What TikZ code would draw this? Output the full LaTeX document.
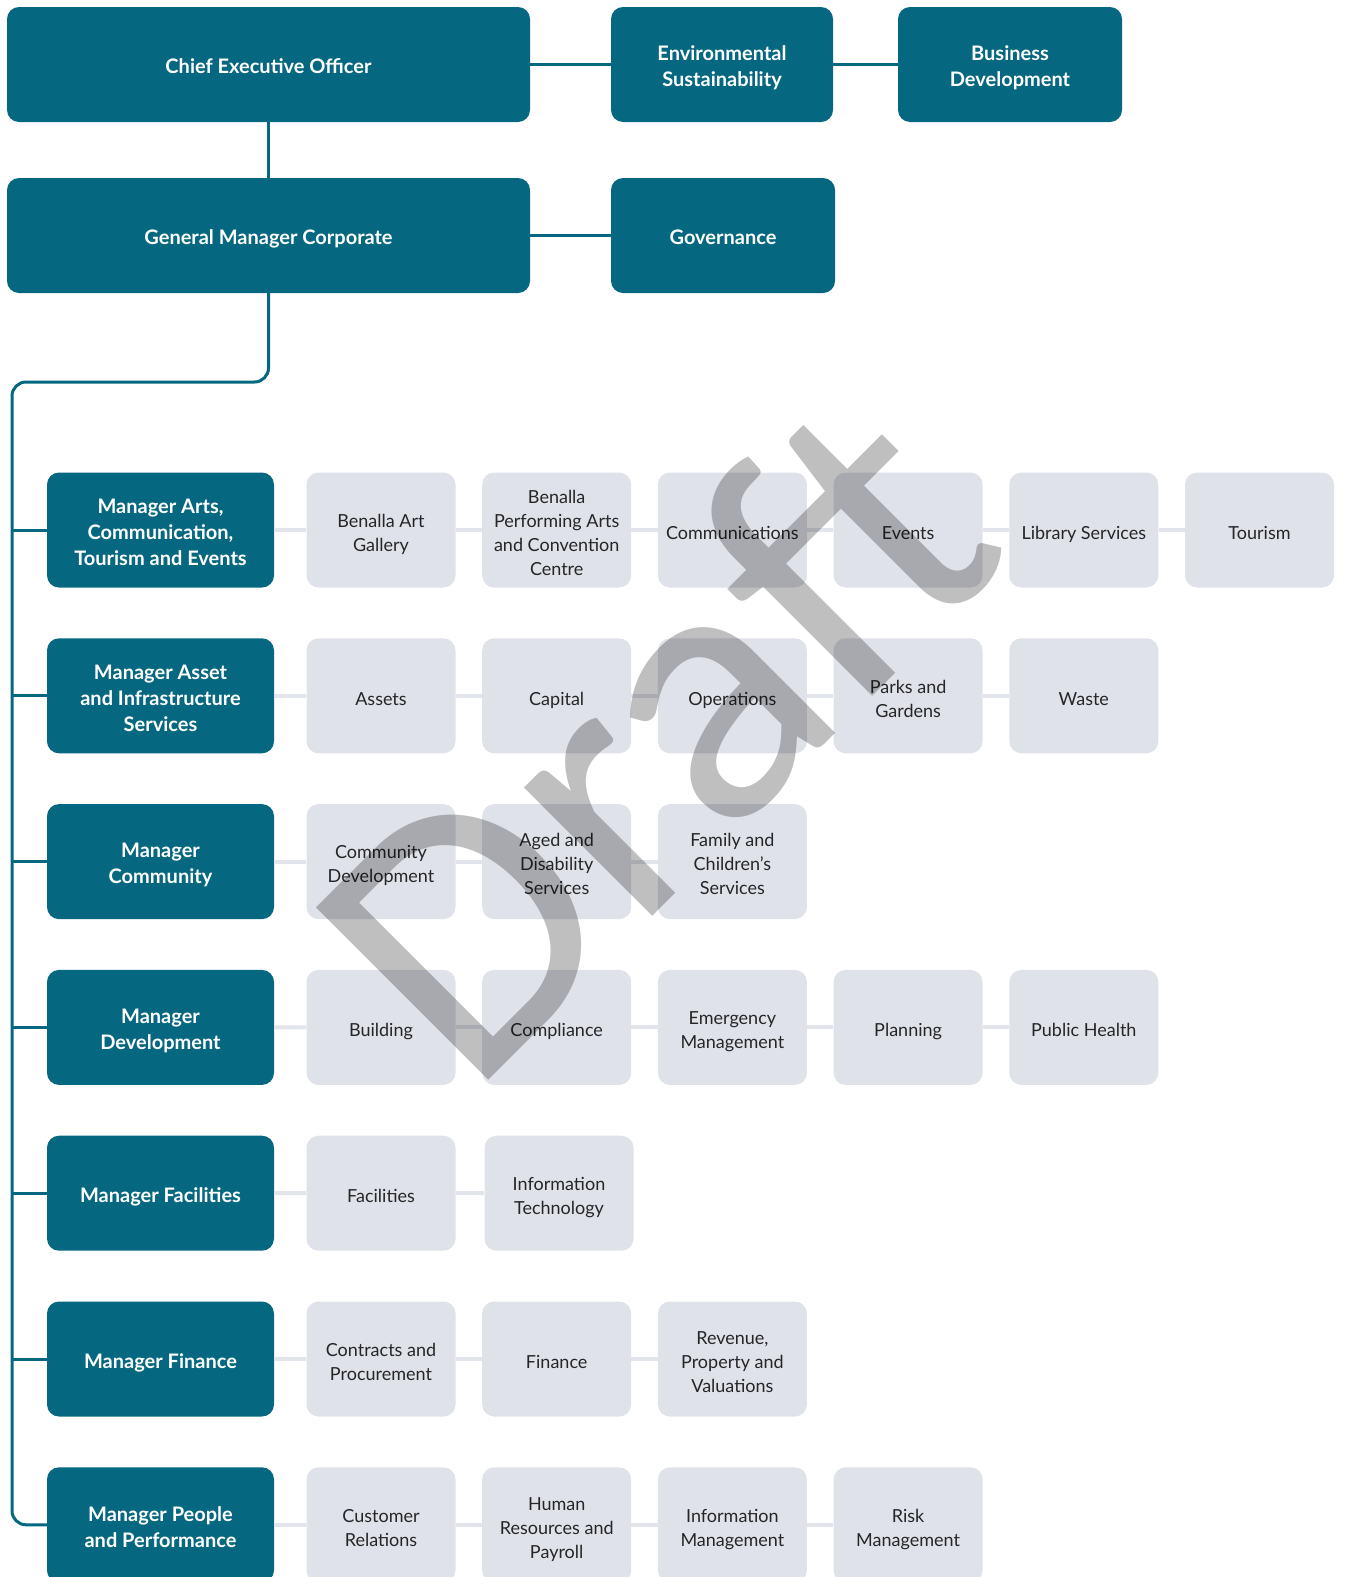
\documentclass[tikz,border=0pt]{standalone}
\usepackage{fontspec}
\setmainfont{Lato}
\newfontfamily\draftfont{Carlito}
\definecolor{benteal}{RGB}{6,104,128}
\definecolor{bengrey}{RGB}{223,226,233}
\definecolor{benline}{RGB}{226,229,235}
% struts so that every box centres its lines the same way
\newcommand{\boxtxt}[1]{\rule{0pt}{23.5pt}#1\rule[-5pt]{0pt}{5pt}}
\begin{document}
\begin{tikzpicture}[x=1pt, y=-1pt,
    exec/.style={rectangle, rounded corners=12pt, fill=benteal, text=white,
      font=\bfseries\fontsize{20}{26}\selectfont, align=center,
      minimum height=115pt, inner sep=0pt},
    dept/.style={rectangle, rounded corners=12pt, fill=bengrey, text=black!85,
      font=\fontsize{18}{24}\selectfont, align=center,
      minimum width=149pt, minimum height=115pt, inner sep=0pt},
    orgline/.style={draw=benteal, line width=3pt},
    teamline/.style={draw=benline, line width=4pt}]
  \useasboundingbox (0,0) rectangle (1346,1577);

  % Executive boxes
  \node[exec, minimum width=523pt] (ceo) at (268.5, 64.5) {\boxtxt{Chief Executive Officer}};
  \node[exec, minimum width=222pt] (env) at (722, 64.5) {\boxtxt{Environmental\\Sustainability}};
  \node[exec, minimum width=224pt] (bus) at (1010, 64.5) {\boxtxt{Business\\Development}};
  \node[exec, minimum width=523pt] (gmc) at (268.5, 235.5) {\boxtxt{General Manager Corporate}};
  \node[exec, minimum width=224pt] (gov) at (723, 235.5) {\boxtxt{Governance}};

  \draw[orgline] (ceo.east) -- (env.west);
  \draw[orgline] (env.east) -- (bus.west);
  \draw[orgline] (ceo.south) -- (gmc.north);
  \draw[orgline] (gmc.east) -- (gov.west);

  % Managers
  \foreach \r/\txt in {1/{Manager Arts,\\Communication,\\Tourism and Events},
                       2/{Manager Asset\\and Infrastructure\\Services},
                       3/{Manager\\Community},
                       4/{Manager\\Development},
                       5/{Manager Facilities},
                       6/{Manager Finance},
                       7/{Manager People\\and Performance}} {
    \node[exec, minimum width=227pt] (m\r) at (160.5, {530+(\r-1)*165.8}) {\boxtxt{\txt}};
  }

  % Trunk from the general manager
  \coordinate (trunk) at (12, 382);
  \draw[orgline, rounded corners=14pt] (gmc.south) |- (trunk) |- (m7.west);
  \foreach \r in {1,...,6} {
    \draw[orgline] (m\r.west -| trunk) -- (m\r.west);
  }

  % Units under each manager
  \foreach \c/\txt in {1/{Benalla Art\\Gallery}, 2/{Benalla\\Performing Arts\\and Convention\\Centre},
                       3/{Communications}, 4/{Events}, 5/{Library Services}, 6/{Tourism}} {
    \node[dept] (d1-\c) at ({381+(\c-1)*175.7}, 530) {\boxtxt{\txt}};
  }
  \foreach \c/\txt in {1/{Assets}, 2/{Capital}, 3/{Operations}, 4/{Parks and\\Gardens}, 5/{Waste}} {
    \node[dept] (d2-\c) at ({381+(\c-1)*175.7}, 695.8) {\boxtxt{\txt}};
  }
  \foreach \c/\txt in {1/{Community\\Development}, 2/{Aged and\\Disability\\Services},
                       3/{Family and\\Children’s\\Services}} {
    \node[dept] (d3-\c) at ({381+(\c-1)*175.7}, 861.6) {\boxtxt{\txt}};
  }
  \foreach \c/\txt in {1/{Building}, 2/{Compliance}, 3/{Emergency\\Management}, 4/{Planning},
                       5/{Public Health}} {
    \node[dept] (d4-\c) at ({381+(\c-1)*175.7}, 1027.4) {\boxtxt{\txt}};
  }
  \foreach \c/\txt in {1/{Facilities}, 2/{Information\\Technology}} {
    \node[dept] (d5-\c) at ({381+(\c-1)*178}, 1193.2) {\boxtxt{\txt}};
  }
  \foreach \c/\txt in {1/{Contracts and\\Procurement}, 2/{Finance}, 3/{Revenue,\\Property and\\Valuations}} {
    \node[dept] (d6-\c) at ({381+(\c-1)*175.7}, 1359) {\boxtxt{\txt}};
  }
  \foreach \c/\txt in {1/{Customer\\Relations}, 2/{Human\\Resources and\\Payroll},
                       3/{Information\\Management}, 4/{Risk\\Management}} {
    \node[dept] (d7-\c) at ({381+(\c-1)*175.7}, 1524.8) {\boxtxt{\txt}};
  }

  % Light links along each row
  \foreach \r/\n in {1/6, 2/5, 3/3, 4/5, 5/2, 6/3, 7/4} {
    \draw[teamline] (m\r.east) -- (d\r-1.west);
    \foreach \c in {2,...,\n} {
      \pgfmathtruncatemacro{\prev}{\c-1}
      \draw[teamline] (d\r-\prev.east) -- (d\r-\c.west);
    }
  }

  % Watermark
  \node[rotate=45, anchor=base west, inner sep=0pt, text=black, text opacity=0.25,
    font=\draftfont\fontsize{380}{380}\selectfont] (draft) at (470, 1099) {Draft};
\end{tikzpicture}
\end{document}
